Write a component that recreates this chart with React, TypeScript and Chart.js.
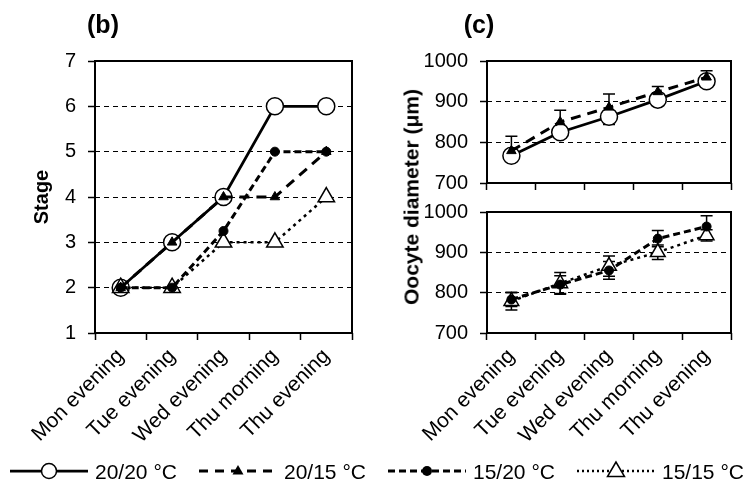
import React, { useEffect, useRef } from 'react';
import { Chart, registerables } from 'chart.js';

Chart.register(...registerables);

// ---------------- data ----------------
const categories = ['Mon evening', 'Tue evening', 'Wed evening', 'Thu morning', 'Thu evening'];
const seriesNames = ['20/20 °C', '20/15 °C', '15/20 °C', '15/15 °C'];

// (b) Stage
const stage2020 = [2, 3, 4, 6, 6];
const stage2015 = [2, 3, 4, 4, 5];
const stage1520 = [2, 2, 3.25, 5, 5];
const stage1515 = [2, 2, 3, 3, 4];
const stageMin = 1;
const stageMax = 7;
const stageStep = 1;

// (c) Oocyte diameter (µm)
const diam2020 = [767, 825, 863, 905, 950];
const diam2020ErrMinus = [10, 12, 19, 10, 10];
const diam2015 = [779, 850, 886, 924, 960];
const diam2015ErrPlus = [36, 29, 33, 13, 16];
const diam1520 = [783, 820, 855, 934, 964];
const diam1520Err = [17, 22, 22, 20, 27];
const diam1515 = [779, 823, 866, 900, 942];
const diam1515Err = [22, 27, 25, 18, 14];
const diamMin = 700;
const diamMax = 1000;
const diamStep = 100;

// ---------------- styles ----------------
const FONT = '"Liberation Sans", Arial, Helvetica, sans-serif';
const W = 746;
const H = 484;

const style2020 = {
  borderColor: '#000', borderWidth: 2.75, borderDash: [] as number[],
  pointStyle: 'circle', pointRadius: 8.5, pointBorderWidth: 1.5,
  pointBackgroundColor: '#fff', pointBorderColor: '#000',
};
const style2015 = {
  borderColor: '#000', borderWidth: 3, borderDash: [10, 7],
  pointStyle: 'triangle', pointRadius: 5.5, pointBorderWidth: 1,
  pointBackgroundColor: '#000', pointBorderColor: '#000',
};
const style1520 = {
  borderColor: '#000', borderWidth: 3, borderDash: [7, 4],
  pointStyle: 'circle', pointRadius: 4.5, pointBorderWidth: 1,
  pointBackgroundColor: '#000', pointBorderColor: '#000',
};
const style1515 = {
  borderColor: '#000', borderWidth: 2.5, borderDash: [3, 4],
  pointStyle: 'triangle', pointRadius: 9.5, pointBorderWidth: 1.5,
  pointBackgroundColor: '#fff', pointBorderColor: '#000',
};

// ---------------- plugins ----------------
const framePlugin = {
  id: 'frame',
  beforeDatasetsDraw(chart: any) {
    const { ctx, chartArea } = chart;
    ctx.save();
    ctx.strokeStyle = '#000';
    ctx.lineWidth = 2;
    ctx.setLineDash([]);
    ctx.strokeRect(chartArea.left, chartArea.top, chartArea.right - chartArea.left, chartArea.bottom - chartArea.top);
    ctx.restore();
  },
};

const errorBarPlugin = {
  id: 'errorBars',
  beforeDatasetsDraw(chart: any) {
    const { ctx } = chart;
    const yScale = chart.scales.y;
    chart.data.datasets.forEach((ds: any, di: number) => {
      if (!ds.errPlus && !ds.errMinus) return;
      const meta = chart.getDatasetMeta(di);
      ctx.save();
      ctx.strokeStyle = '#000';
      ctx.lineWidth = 1.5;
      ctx.setLineDash([]);
      meta.data.forEach((pt: any, i: number) => {
        const v = ds.data[i];
        const x = pt.x;
        const y0 = yScale.getPixelForValue(v);
        const draw = (e: number) => {
          const y1 = yScale.getPixelForValue(v + e);
          ctx.beginPath();
          ctx.moveTo(x, y0);
          ctx.lineTo(x, y1);
          ctx.moveTo(x - 6, y1);
          ctx.lineTo(x + 6, y1);
          ctx.stroke();
        };
        if (ds.errPlus) draw(ds.errPlus[i]);
        if (ds.errMinus) draw(-ds.errMinus[i]);
      });
      ctx.restore();
    });
  },
};

type Area = { left: number; top: number; right: number; bottom: number };

function panelConfig(opts: {
  datasets: any[];
  min: number; max: number; step: number;
  area: Area;
  xAxisHeight: number;
  showXLabels: boolean;
  yTitle?: string;
}) {
  const { area, min, max } = opts;
  return {
    type: 'line',
    data: { labels: categories, datasets: opts.datasets },
    options: {
      responsive: false,
      animation: false,
      events: [],
      layout: {
        padding: { left: 0, top: area.top, right: W - area.right, bottom: H - area.bottom - opts.xAxisHeight },
      },
      elements: { line: { tension: 0, fill: false } },
      plugins: { legend: { display: false }, tooltip: { enabled: false }, title: { display: false } },
      scales: {
        x: {
          type: 'category',
          offset: true,
          afterFit: (s: any) => { s.height = opts.xAxisHeight; },
          grid: {
            display: true, offset: true, drawOnChartArea: false, drawTicks: true,
            tickLength: 7, tickColor: '#000', tickWidth: 1.5, color: 'rgba(0,0,0,0)',
          },
          border: { display: false },
          ticks: {
            display: opts.showXLabels,
            autoSkip: false,
            maxRotation: 45, minRotation: 45,
            padding: 4,
            color: '#000',
            font: { family: FONT, size: 21 },
          },
        },
        y: {
          min, max,
          afterFit: (s: any) => { s.width = area.left; },
          grid: {
            display: true, drawOnChartArea: true, drawTicks: true,
            tickLength: 7, tickColor: '#000', tickWidth: 1.5,
            lineWidth: 1,
            color: (c: any) => (c.tick && (c.tick.value === min || c.tick.value === max)) ? 'rgba(0,0,0,0)' : '#000',
          },
          border: { display: false, dash: [5, 4] },
          ticks: {
            stepSize: opts.step,
            padding: 12,
            color: '#000',
            font: { family: FONT, size: 20 },
            callback: (v: any) => String(v),
          },
          title: opts.yTitle ? {
            display: true, text: opts.yTitle, color: '#000',
            font: { family: FONT, size: 20, weight: 'bold' },
            padding: { top: 30, bottom: 0 },
          } : { display: false },
        },
      },
    },
    plugins: [framePlugin, errorBarPlugin],
  } as any;
}

function LegendIcon({ idx }: { idx: number }) {
  const y = 11;
  const cx = 39;
  const lineProps: any[] = [
    { strokeWidth: 2.75 },
    { strokeWidth: 3, strokeDasharray: '9 7' },
    { strokeWidth: 3, strokeDasharray: '7 4' },
    { strokeWidth: 2.5, strokeDasharray: '2 3' },
  ];
  let marker: any = null;
  if (idx === 0) marker = <circle cx={cx} cy={y} r={7.5} fill="#fff" stroke="#000" strokeWidth={1.5} />;
  if (idx === 1) marker = <polygon points={`${cx},${y - 6} ${cx - 5.5},${y + 3.5} ${cx + 5.5},${y + 3.5}`} fill="#000" />;
  if (idx === 2) marker = <circle cx={cx} cy={y} r={5} fill="#000" />;
  if (idx === 3) marker = <polygon points={`${cx},${y - 9} ${cx - 8.5},${y + 5.5} ${cx + 8.5},${y + 5.5}`} fill="#fff" stroke="#000" strokeWidth={1.5} />;
  return (
    <svg width={78} height={22} style={{ display: 'block', flex: '0 0 auto' }}>
      <line x1={0} x2={78} y1={y} y2={y} stroke="#000" {...lineProps[idx]} />
      {marker}
    </svg>
  );
}

export default function App() {
  const refB = useRef<HTMLCanvasElement>(null);
  const refCTop = useRef<HTMLCanvasElement>(null);
  const refCBot = useRef<HTMLCanvasElement>(null);

  useEffect(() => {
    const charts: Chart[] = [];
    if (refB.current) {
      charts.push(new Chart(refB.current, panelConfig({
        datasets: [
          { label: seriesNames[0], data: stage2020, order: 4, ...style2020 },
          { label: seriesNames[1], data: stage2015, order: 2, ...style2015 },
          { label: seriesNames[2], data: stage1520, order: 1, ...style1520 },
          { label: seriesNames[3], data: stage1515, order: 3, ...style1515 },
        ],
        min: stageMin, max: stageMax, step: stageStep,
        area: { left: 95, top: 61, right: 352, bottom: 333 },
        xAxisHeight: 115,
        showXLabels: true,
        yTitle: 'Stage',
      })));
    }
    if (refCTop.current) {
      charts.push(new Chart(refCTop.current, panelConfig({
        datasets: [
          { label: seriesNames[0], data: diam2020, errMinus: diam2020ErrMinus, order: 2, ...style2020 },
          { label: seriesNames[1], data: diam2015, errPlus: diam2015ErrPlus, order: 1, ...style2015 },
        ],
        min: diamMin, max: diamMax, step: diamStep,
        area: { left: 487, top: 61, right: 731, bottom: 183 },
        xAxisHeight: 10,
        showXLabels: false,
      })));
    }
    if (refCBot.current) {
      charts.push(new Chart(refCBot.current, panelConfig({
        datasets: [
          { label: seriesNames[2], data: diam1520, errPlus: diam1520Err, errMinus: diam1520Err, order: 1, ...style1520 },
          { label: seriesNames[3], data: diam1515, errPlus: diam1515Err, errMinus: diam1515Err, order: 2, ...style1515, pointRadius: 8.5 },
        ],
        min: diamMin, max: diamMax, step: diamStep,
        area: { left: 487, top: 212, right: 731, bottom: 333 },
        xAxisHeight: 115,
        showXLabels: true,
      })));
    }
    return () => charts.forEach((c) => c.destroy());
  }, []);

  const canvasStyle: React.CSSProperties = { position: 'absolute', left: 0, top: 0, width: W, height: H };
  const panelTitle: React.CSSProperties = {
    position: 'absolute', transform: 'translate(-50%, -50%)', fontFamily: FONT,
    fontWeight: 'bold', fontSize: 25, color: '#000', whiteSpace: 'nowrap', lineHeight: 1,
  };

  return (
    <div style={{ position: 'fixed', left: 0, top: 0, width: W, height: H, background: '#fff', overflow: 'hidden' }}>
      <canvas ref={refB} width={W} height={H} style={canvasStyle} />
      <canvas ref={refCTop} width={W} height={H} style={canvasStyle} />
      <canvas ref={refCBot} width={W} height={H} style={canvasStyle} />
      <div style={{ ...panelTitle, left: 103, top: 24 }}>(b)</div>
      <div style={{ ...panelTitle, left: 479, top: 24 }}>(c)</div>
      <div style={{
        position: 'absolute', left: 411, top: 197, transform: 'translate(-50%, -50%) rotate(-90deg)',
        fontFamily: FONT, fontWeight: 'bold', fontSize: 21, color: '#000', whiteSpace: 'nowrap', lineHeight: 1,
      }}>Oocyte diameter (μm)</div>
      <div style={{ position: 'absolute', left: 10, top: 460, height: 22, display: 'flex', alignItems: 'center' }}>
        {seriesNames.map((name, i) => (
          <div key={name} style={{ width: 189, display: 'flex', alignItems: 'center' }}>
            <LegendIcon idx={i} />
            <span style={{ marginLeft: 7, fontFamily: FONT, fontSize: 21, color: '#000', whiteSpace: 'nowrap', lineHeight: 1 }}>{name}</span>
          </div>
        ))}
      </div>
    </div>
  );
}
